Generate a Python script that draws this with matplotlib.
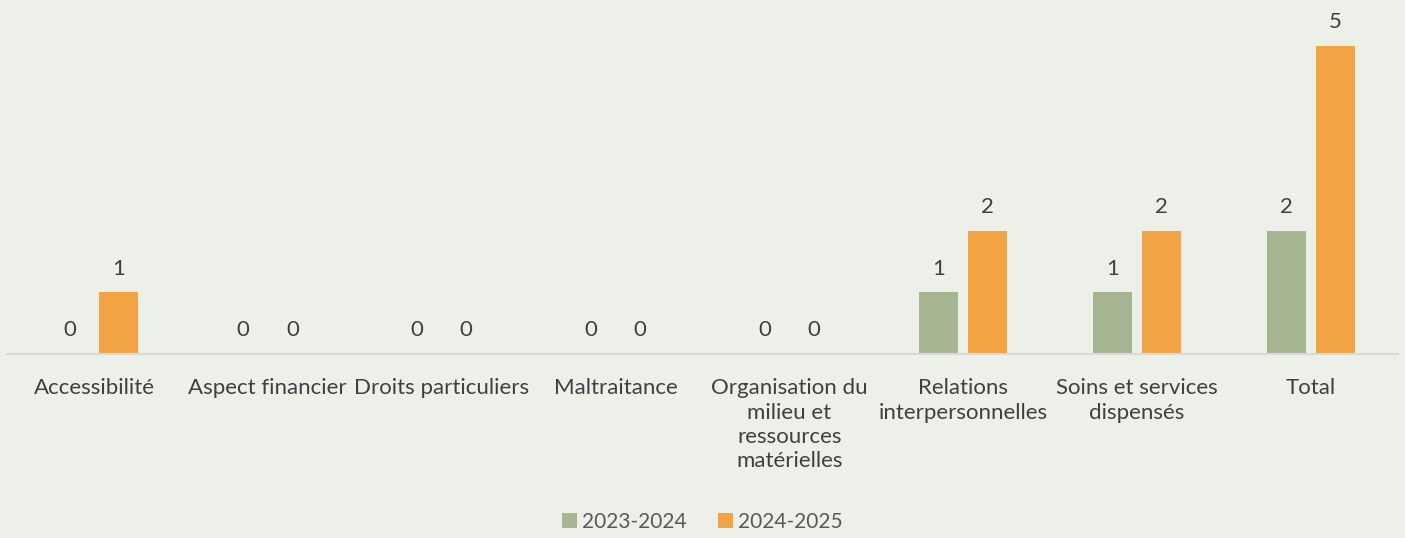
import matplotlib
matplotlib.use("Agg")
import matplotlib.pyplot as plt
import numpy as np

categories = ["Accessibilité", "Aspect financier", "Droits particuliers", "Maltraitance",
              "Organisation du\nmilieu et\nressources\nmatérielles", "Relations\ninterpersonnelles",
              "Soins et services\ndispensés", "Total"]
series_names = ["2023-2024", "2024-2025"]
values_2023 = [0, 0, 0, 0, 0, 1, 1, 2]
values_2024 = [1, 0, 0, 0, 0, 2, 2, 5]

bg = "#EDEFE9"
green = "#A5B592"
orange = "#F2A444"
plt.rcParams['font.family'] = ['Lato', 'DejaVu Sans']

W, H = 1405, 538
fig = plt.figure(figsize=(W/100, H/100), dpi=100, facecolor=bg)
ax = fig.add_axes([7/W, 1-354/H, (1398-7)/W, (354-15)/H])
ax.set_facecolor(bg)

x = np.arange(len(categories))
bw = 0.224
off = 0.141
b1 = ax.bar(x - off, values_2023, bw, color=green, label=series_names[0])
b2 = ax.bar(x + off, values_2024, bw, color=orange, label=series_names[1])

for bars, vals in ((b1, values_2023), (b2, values_2024)):
    for r, v in zip(bars, vals):
        ax.annotate(str(v), (r.get_x() + r.get_width()/2, v), xytext=(0, 17),
                    textcoords="offset points", ha="center", va="center",
                    fontsize=16, color="#404040")

ax.set_xlim(-0.5, len(categories) - 0.5)
ax.set_ylim(0, 5.5)
ax.set_yticks([])
ax.set_xticks(x)
ax.set_xticklabels(categories, fontsize=16, color="#404040", linespacing=1.27)
ax.tick_params(axis='x', length=0, pad=17.5)
for s in ["top", "right", "left"]:
    ax.spines[s].set_visible(False)
ax.spines["bottom"].set_color("#D9D9D9")
ax.spines["bottom"].set_linewidth(1.5)

fig.legend(handles=[b1, b2], labels=series_names, loc="center", bbox_to_anchor=(0.5, 1-522/H),
           ncol=2, frameon=False, fontsize=15, handlelength=0.7, handleheight=0.7,
           handletextpad=0.25, columnspacing=1.5, labelcolor="#595959")

fig.savefig("out.png", dpi=100, facecolor=bg)
